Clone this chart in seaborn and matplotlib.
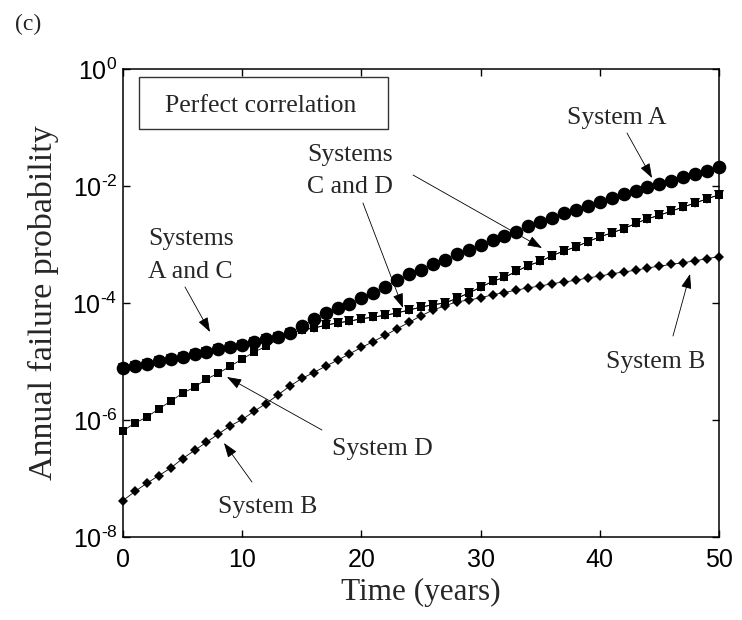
import matplotlib
matplotlib.use("Agg")
import matplotlib.pyplot as plt
import seaborn as sns
import numpy as np
import pandas as pd
from matplotlib.patches import Rectangle
from matplotlib.ticker import NullLocator, FuncFormatter

years = list(range(0, 51))

system_a = [7.8e-6, 8.3e-6, 9.1e-6, 1.02e-5, 1.12e-5, 1.20e-5, 1.35e-5, 1.48e-5, 1.62e-5, 1.78e-5,
            1.91e-5, 2.14e-5, 2.40e-5, 2.63e-5, 3.09e-5, 4.07e-5, 5.25e-5, 6.76e-5, 8.13e-5, 9.77e-5,
            1.20e-4, 1.48e-4, 1.91e-4, 2.45e-4, 3.09e-4, 3.72e-4, 4.57e-4, 5.50e-4, 6.76e-4, 8.13e-4,
            1.00e-3, 1.20e-3, 1.41e-3, 1.66e-3, 2.04e-3, 2.40e-3, 2.82e-3, 3.39e-3, 3.89e-3, 4.57e-3,
            5.37e-3, 6.17e-3, 7.24e-3, 8.32e-3, 9.55e-3, 1.07e-2, 1.23e-2, 1.45e-2, 1.62e-2, 1.82e-2,
            2.09e-2]

system_d = [6.5e-7, 8.9e-7, 1.12e-6, 1.55e-6, 2.09e-6, 2.88e-6, 3.63e-6, 5.01e-6, 6.31e-6, 8.32e-6,
            1.10e-5, 1.45e-5, 1.82e-5, 2.40e-5, 3.02e-5, 3.47e-5, 3.72e-5, 4.17e-5, 4.57e-5, 4.90e-5,
            5.37e-5, 5.75e-5, 6.17e-5, 6.76e-5, 7.59e-5, 8.51e-5, 9.33e-5, 1.00e-4, 1.20e-4, 1.48e-4,
            1.86e-4, 2.34e-4, 2.75e-4, 3.47e-4, 4.37e-4, 5.13e-4, 6.46e-4, 7.76e-4, 9.12e-4, 1.12e-3,
            1.35e-3, 1.58e-3, 1.86e-3, 2.29e-3, 2.75e-3, 3.16e-3, 3.72e-3, 4.37e-3, 5.13e-3, 6.03e-3,
            7.08e-3]

system_c = [7.8e-6, 8.3e-6, 9.1e-6, 1.02e-5, 1.12e-5, 1.20e-5, 1.35e-5, 1.48e-5, 1.62e-5, 1.78e-5,
            1.91e-5, 2.14e-5, 2.40e-5, 2.63e-5, 3.02e-5, 3.47e-5, 3.72e-5, 4.17e-5, 4.57e-5, 4.90e-5,
            5.37e-5, 5.75e-5, 6.17e-5, 6.76e-5, 7.59e-5, 8.51e-5, 9.33e-5, 1.00e-4, 1.20e-4, 1.48e-4,
            1.86e-4, 2.34e-4, 2.75e-4, 3.47e-4, 4.37e-4, 5.13e-4, 6.46e-4, 7.76e-4, 9.12e-4, 1.12e-3,
            1.35e-3, 1.58e-3, 1.86e-3, 2.29e-3, 2.75e-3, 3.16e-3, 3.72e-3, 4.37e-3, 5.13e-3, 6.03e-3,
            7.08e-3]

system_b = [4.2e-8, 6.0e-8, 8.3e-8, 1.12e-7, 1.51e-7, 2.19e-7, 3.02e-7, 4.17e-7, 5.75e-7, 7.94e-7,
            1.02e-6, 1.41e-6, 1.91e-6, 2.69e-6, 3.80e-6, 5.13e-6, 6.46e-6, 8.32e-6, 1.05e-5, 1.35e-5,
            1.74e-5, 2.19e-5, 2.82e-5, 3.63e-5, 4.68e-5, 6.03e-5, 7.59e-5, 8.91e-5, 1.05e-4, 1.12e-4,
            1.23e-4, 1.38e-4, 1.51e-4, 1.66e-4, 1.82e-4, 1.95e-4, 2.14e-4, 2.29e-4, 2.45e-4, 2.69e-4,
            2.88e-4, 3.16e-4, 3.39e-4, 3.63e-4, 3.98e-4, 4.27e-4, 4.57e-4, 4.90e-4, 5.25e-4, 5.75e-4,
            6.17e-4]

x_ticks = [0, 10, 20, 30, 40, 50]
y_ticks = [1e-8, 1e-6, 1e-4, 1e-2, 1e0]

sns.set_style("ticks")
plt.rcParams["font.family"] = ["Liberation Sans", "DejaVu Sans"]
plt.rcParams["mathtext.fontset"] = "custom"
plt.rcParams["mathtext.rm"] = "Liberation Sans"
plt.rcParams["mathtext.it"] = "Liberation Sans:italic"
plt.rcParams["mathtext.bf"] = "Liberation Sans:bold"
plt.rcParams["mathtext.sf"] = "Liberation Sans"
plt.rcParams["axes.unicode_minus"] = False

SERIF = ["Liberation Serif", "DejaVu Serif"]

fig = plt.figure(figsize=(7.42, 6.2), dpi=100)
ax = fig.add_axes([123 / 742, 1 - 537 / 620, 596 / 742, 468 / 620])

df = pd.DataFrame({"year": years, "A": system_a, "B": system_b, "C": system_c, "D": system_d})

line_kw = dict(color="black", linewidth=0.6, markeredgewidth=0, markerfacecolor="black",
               clip_on=False, ax=ax)
sns.lineplot(data=df, x="year", y="C", marker="v", markersize=7.6, zorder=2, **line_kw)
sns.lineplot(data=df, x="year", y="A", marker="o", markersize=9.8, zorder=3, **line_kw)
sns.lineplot(data=df, x="year", y="D", marker="s", markersize=5.9, zorder=4, **line_kw)
sns.lineplot(data=df, x="year", y="B", marker="D", markersize=5.2, zorder=5, **line_kw)

ax.set_yscale("log")
ax.set_xlim(0, 50)
ax.set_ylim(1e-8, 1e0)
ax.set_xticks(x_ticks)
ax.set_yticks(y_ticks)
ax.yaxis.set_minor_locator(NullLocator())


def pow_label(v, pos):
    e = int(round(np.log10(v)))
    sign = "\u2010" if e < 0 else ""
    return "$\\mathdefault{10^{%s%d}}$" % (sign, abs(e))


ax.yaxis.set_major_formatter(FuncFormatter(pow_label))
ax.tick_params(which="major", direction="in", top=True, right=True, length=5, width=1,
               labelsize=18, colors="black")
ax.tick_params(axis="x", pad=8)
ax.tick_params(axis="y", pad=4)
for s in ax.spines.values():
    s.set_linewidth(1.1)
    s.set_color("black")
    s.set_visible(True)

ax.set_xlabel("Time (years)", fontsize=22.5, family=SERIF)
ax.set_ylabel("Annual failure probability", fontsize=24.5, family=SERIF)
ax.xaxis.set_label_coords(0.5, -0.088)
ax.yaxis.set_label_coords(-0.107, 0.5)

fig.text(15 / 742, 1 - 30 / 620, "(c)", fontsize=17, family=SERIF, ha="left", va="baseline")

# "Perfect correlation" box
ax.add_patch(Rectangle((0.0268, 0.8718), 0.4178, 0.1111, transform=ax.transAxes,
                       fill=False, edgecolor="#333333", linewidth=1.0, zorder=6))
ann_fs = 18.5
ax.text(3.52, 10 ** -0.735, "Perfect correlation", fontsize=ann_fs, family=SERIF,
        ha="left", va="baseline", zorder=7)

texts = [
    ("System A", 37.25, -0.940),
    ("Systems", 15.44, -1.568),
    ("C and D", 15.44, -2.115),
    ("Systems", 2.10, -3.009),
    ("A and C", 2.10, -3.573),
    ("System D", 17.53, -6.598),
    ("System B", 7.97, -7.590),
    ("System B", 40.52, -5.111),
]
for t, x, ly in texts:
    ax.text(x, 10 ** ly, t, fontsize=ann_fs, family=SERIF, ha="left", va="baseline", zorder=7)

arrows = [
    ((42.28, -1.094), (44.38, -1.863)),
    ((20.13, -2.291), (23.49, -4.085)),
    ((24.33, -1.812), (35.15, -3.060)),
    ((5.20, -3.726), (7.30, -4.496)),
    ((16.69, -6.171), (8.72, -5.265)),
    ((10.82, -7.060), (8.47, -6.393)),
    ((46.14, -4.564), (47.57, -3.504)),
]
for (sx, sly), (tx, tly) in arrows:
    ax.annotate("", xy=(tx, 10 ** tly), xytext=(sx, 10 ** sly),
                arrowprops=dict(arrowstyle="-|>,head_length=0.9,head_width=0.32",
                                color="black", lw=0.6, shrinkA=0, shrinkB=0),
                zorder=8)

fig.savefig("out.png", dpi=100)
